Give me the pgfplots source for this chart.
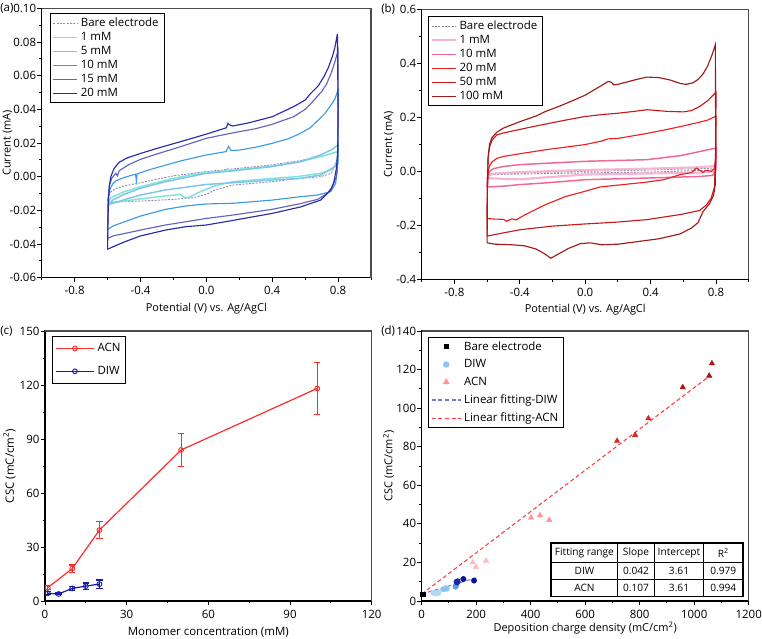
\documentclass[border=0pt]{standalone}
\usepackage{fontspec}
\setmainfont{Open Sans}
\usepackage{pgfplots}
\pgfplotsset{compat=1.18}
\newcommand\tf{\fontsize{8.6}{10.2}\selectfont}
\newcommand\lf{\fontsize{8.2}{10}\selectfont}
\newcommand\tabf{\fontsize{7.6}{9}\selectfont}

% colours of panel (a)
\definecolor{aBare}{HTML}{8C8CB4}
\definecolor{aOne}{HTML}{7FE3D8}
\definecolor{aFive}{HTML}{80C4EC}
\definecolor{aTen}{HTML}{3A9AE8}
\definecolor{aFifteen}{HTML}{6262BE}
\definecolor{aTwenty}{HTML}{2A2AA8}
% colours of panel (b)
\definecolor{bBare}{HTML}{8C8CA0}
\definecolor{bOne}{HTML}{F8B4D4}
\definecolor{bTen}{HTML}{F06890}
\definecolor{bTwenty}{HTML}{F01E1E}
\definecolor{bFifty}{HTML}{C81A1A}
\definecolor{bHundred}{HTML}{A01818}
% colours of panels (c) and (d)
\definecolor{acnRed}{HTML}{FF2A2A}
\definecolor{diwBlue}{HTML}{1A1AA6}
\definecolor{diwA}{HTML}{B0D8F4}
\definecolor{diwB}{HTML}{8CC3EC}
\definecolor{diwC}{HTML}{5C9EDF}
\definecolor{diwD}{HTML}{1A2AA8}
\definecolor{diwE}{HTML}{0A1290}
\definecolor{acnA}{HTML}{FFB8CB}
\definecolor{acnB}{HTML}{FF9494}
\definecolor{acnC}{HTML}{D42A2A}
\definecolor{acnD}{HTML}{B01515}
\definecolor{fitDIW}{HTML}{7878DC}
\definecolor{fitACN}{HTML}{FF4040}

\pgfplotsset{
  panel/.style={
    scale only axis, anchor=south west, clip mode=individual,
    axis line style={line width=0.8pt},
    tick align=outside, xtick pos=bottom, ytick pos=left,
    major tick length=3.2pt, minor tick length=1.8pt,
    every tick/.append style={black, line width=0.7pt},
    tick label style={font=\tf},
    yticklabel style={inner xsep=0.8pt},
    label style={font=\lf},
    legend style={font=\tf, draw=black, line width=0.7pt, cells={anchor=west},
      inner xsep=2pt, inner ysep=1pt, row sep=-1.2pt},
    legend cell align=left,
  },
  cv/.style={line width=0.85pt, mark=none},
  cvlegend/.style={legend image code/.code={\draw[##1] (0pt,0pt) -- (18pt,0pt);}},
}

\begin{document}
\begin{tikzpicture}
\useasboundingbox (0,0) rectangle (571.5pt,-478.5pt);

% ---------------- (a)
\begin{axis}[panel, cvlegend,
  at={(31.275pt,-208.275pt)}, width=246.975pt, height=202.05pt,
  xmin=-1, xmax=1, ymin=-0.06, ymax=0.10,
  xtick={-0.8,-0.4,0,0.4,0.8}, xticklabels={-0.8,-0.4,0.0,0.4,0.8},
  minor xtick={-1,-0.6,-0.2,0.2,0.6,1},
  ytick={-0.06,-0.04,-0.02,0,0.02,0.04,0.06,0.08,0.10},
  yticklabels={-0.06,-0.04,-0.02,0.00,0.02,0.04,0.06,0.08,0.10},
  minor ytick={-0.05,-0.03,-0.01,0.01,0.03,0.05,0.07,0.09},
  xlabel={Potential (V) vs. Ag/AgCl}, ylabel={Current (mA)},
  x label style={at={(axis description cs:0.5,-0.116)}, anchor=center},
  y label style={at={(axis description cs:-0.104,0.5)}, anchor=center},
  legend style={at={(axis description cs:0.024,0.981)}, anchor=north west},
]
\addplot[cv, aBare, line width=0.7pt, dash pattern=on 1.5pt off 1pt] coordinates {
 (-0.6,-0.013) (-0.58,-0.009) (-0.55,-0.007) (-0.5,-0.0055) (-0.4,-0.0036) (-0.3,-0.0015)
 (-0.2,0.0005) (-0.1,0.0018) (0,0.003) (0.2,0.005) (0.4,0.007) (0.55,0.0092) (0.694,0.0119) (0.8,0.0149)
 (0.79,0.009) (0.76,0.002) (0.694,0.0) (0.571,-0.001) (0.4,-0.003) (0.16,-0.005) (0.05,-0.008)
 (0.0,-0.0105) (-0.08,-0.0125) (-0.2,-0.0135) (-0.4,-0.0145) (-0.6,-0.015) (-0.6,-0.013)};
\addlegendentry{Bare electrode}
\addplot[cv, aOne, line width=1.1pt] coordinates {
 (-0.6,-0.016) (-0.58,-0.0125) (-0.5,-0.009) (-0.4,-0.006) (-0.3,-0.0035) (-0.2,-0.001) (-0.1,0.001)
 (0,0.0024) (0.12,0.0035) (0.13,0.0048) (0.14,0.0036) (0.25,0.0048) (0.4,0.0063) (0.55,0.0085)
 (0.694,0.0119) (0.8,0.0149)
 (0.8,0.008) (0.76,0.004) (0.694,0.002) (0.55,0.0) (0.4,-0.001) (0.16,-0.003) (0.05,-0.0055)
 (0.0,-0.0075) (-0.05,-0.0095) (-0.1,-0.012) (-0.13,-0.0125) (-0.16,-0.0105) (-0.2,-0.011)
 (-0.3,-0.012) (-0.45,-0.0138) (-0.6,-0.016)};
\addlegendentry{1 mM}
\addplot[cv, aFive, line width=1.1pt] coordinates {
 (-0.6,-0.018) (-0.57,-0.0139) (-0.5,-0.0105) (-0.4,-0.0069) (-0.248,-0.003) (-0.1,0.0) (0,0.002)
 (0.16,0.0034) (0.4,0.006) (0.571,0.0089) (0.694,0.0129) (0.76,0.016) (0.8,0.0188)
 (0.8,0.011) (0.78,0.006) (0.694,0.001) (0.571,-0.001) (0.4,-0.002) (0.16,-0.0036) (0,-0.0046)
 (-0.248,-0.0079) (-0.4,-0.0109) (-0.494,-0.0135) (-0.6,-0.0168) (-0.6,-0.018)};
\addlegendentry{5 mM}
\addplot[cv, aTen] coordinates {
 (-0.6,-0.031) (-0.598,-0.02) (-0.594,-0.012) (-0.585,-0.0075) (-0.57,-0.0045) (-0.55,-0.0025)
 (-0.5,-0.0005) (-0.43,0.0015) (-0.425,-0.0025) (-0.42,0.0017) (-0.35,0.0040) (-0.25,0.0068)
 (-0.15,0.0095) (0,0.0129) (0.12,0.0149) (0.135,0.018) (0.15,0.0155) (0.2,0.0158) (0.3,0.0175)
 (0.4,0.0198) (0.5,0.0226) (0.57,0.0257) (0.63,0.0290) (0.67,0.0327) (0.72,0.0375) (0.75,0.0416)
 (0.78,0.046) (0.8,0.0515)
 (0.8,0.02) (0.797,0.005) (0.785,-0.004) (0.755,-0.0089) (0.675,-0.0109) (0.571,-0.0119)
 (0.4,-0.0139) (0.16,-0.0158) (0,-0.0162) (-0.125,-0.0174) (-0.248,-0.0194) (-0.4,-0.0234)
 (-0.494,-0.0267) (-0.56,-0.029) (-0.6,-0.0313)};
\addlegendentry{10 mM}
\addplot[cv, aFifteen] coordinates {
 (-0.6,-0.037) (-0.598,-0.025) (-0.595,-0.012) (-0.588,-0.005) (-0.575,-0.001) (-0.55,0.002)
 (-0.54,0.0005) (-0.53,0.0035) (-0.47,0.0072) (-0.4,0.0103) (-0.3,0.0135) (-0.2,0.0165)
 (-0.1,0.0196) (0,0.0228) (0.16,0.026) (0.3,0.0285) (0.4,0.0311) (0.53,0.0356) (0.6,0.040)
 (0.64,0.044) (0.7,0.0505) (0.73,0.055) (0.76,0.062) (0.78,0.068) (0.8,0.075)
 (0.8,0.03) (0.797,0.008) (0.79,0.0) (0.765,-0.006) (0.735,-0.0099) (0.675,-0.0135) (0.571,-0.016)
 (0.4,-0.0194) (0.16,-0.0228) (0,-0.0248) (-0.248,-0.0287) (-0.4,-0.0317) (-0.494,-0.0337)
 (-0.56,-0.035) (-0.6,-0.0366)};
\addlegendentry{15 mM}
\addplot[cv, aTwenty] coordinates {
 (-0.6,-0.043) (-0.598,-0.03) (-0.595,-0.015) (-0.59,-0.006) (-0.58,0.0) (-0.56,0.005)
 (-0.53,0.0085) (-0.48,0.0112) (-0.4,0.0138) (-0.3,0.0168) (-0.207,0.0194) (-0.1,0.0224)
 (0,0.0253) (0.121,0.029) (0.131,0.0317) (0.14,0.0308) (0.16,0.0301) (0.25,0.0318) (0.4,0.0356)
 (0.53,0.0416) (0.6,0.0455) (0.634,0.0495) (0.68,0.054) (0.714,0.0594) (0.74,0.0645)
 (0.765,0.0713) (0.78,0.0765) (0.796,0.0848)
 (0.8,0.04) (0.798,0.015) (0.79,0.005) (0.775,-0.003) (0.755,-0.008) (0.694,-0.0139) (0.571,-0.018)
 (0.4,-0.0218) (0.16,-0.026) (0,-0.0287) (-0.125,-0.0297) (-0.248,-0.0317) (-0.4,-0.0352)
 (-0.494,-0.0386) (-0.575,-0.042) (-0.6,-0.0432)};
\addlegendentry{20 mM}
\draw[black!70, line width=0.8pt] (rel axis cs:0,1) -- (rel axis cs:1,1) -- (rel axis cs:1,0);
\end{axis}

% ---------------- (b)
\begin{axis}[panel, cvlegend,
  at={(316.275pt,-209.475pt)}, width=245.25pt, height=202.5pt,
  xmin=-1, xmax=1, ymin=-0.4, ymax=0.6,
  xtick={-0.8,-0.4,0,0.4,0.8}, xticklabels={-0.8,-0.4,0.0,0.4,0.8},
  minor xtick={-1,-0.6,-0.2,0.2,0.6,1},
  ytick={-0.4,-0.2,0,0.2,0.4,0.6}, yticklabels={-0.4,-0.2,0.0,0.2,0.4,0.6},
  minor ytick={-0.3,-0.1,0.1,0.3,0.5},
  xlabel={Potential (V) vs. Ag/AgCl}, ylabel={Current (mA)},
  x label style={at={(axis description cs:0.5,-0.114)}, anchor=center},
  y label style={at={(axis description cs:-0.101,0.5)}, anchor=center},
  legend style={at={(axis description cs:0.018,0.974)}, anchor=north west},
]
\addplot[cv, bBare, line width=0.7pt, dash pattern=on 1.5pt off 1pt] coordinates {
 (-0.6,-0.01) (-0.4,-0.005) (0,0.0) (0.4,0.005) (0.8,0.012)
 (0.79,0.005) (0.4,-0.003) (0,-0.006) (-0.4,-0.01) (-0.6,-0.012) (-0.6,-0.01)};
\addlegendentry{Bare electrode}
\addplot[cv, bOne, line width=1.6pt] coordinates {
 (-0.6,-0.03) (-0.59,-0.015) (-0.55,-0.008) (-0.4,-0.003) (0.0,0.005) (0.4,0.01) (0.7,0.015)
 (0.8,0.02) (0.8,0.09) (0.8,0.01) (0.79,0.0) (0.7,-0.005) (0.4,-0.008) (0.0,-0.012) (-0.3,-0.025)
 (-0.4,-0.03) (-0.5,-0.028) (-0.6,-0.025) (-0.6,-0.03)};
\addlegendentry{1 mM}
\addplot[cv, bTen, line width=1.1pt] coordinates {
 (-0.6,-0.058) (-0.595,-0.02) (-0.585,0.0) (-0.56,0.01) (-0.5,0.018) (-0.394,0.025) (0.0,0.037)
 (0.377,0.043) (0.583,0.058) (0.707,0.074) (0.8,0.086)
 (0.798,0.0) (0.78,-0.015) (0.707,-0.019) (0.377,-0.025) (0.0,-0.031) (-0.241,-0.043)
 (-0.394,-0.049) (-0.5,-0.055) (-0.6,-0.058)};
\addlegendentry{10 mM}
\addplot[cv, bTwenty] coordinates {
 (-0.6,-0.175) (-0.598,-0.05) (-0.594,0.0) (-0.585,0.02) (-0.57,0.035) (-0.54,0.048) (-0.5,0.055)
 (-0.4,0.065) (-0.24,0.08) (0.0,0.099) (0.1,0.112) (0.14,0.12) (0.2,0.122) (0.377,0.14)
 (0.5,0.155) (0.6,0.168) (0.7,0.182) (0.75,0.19) (0.8,0.204)
 (0.798,0.05) (0.79,0.01) (0.77,0.0) (0.74,0.004) (0.72,-0.004) (0.68,0.012) (0.65,-0.005)
 (0.583,-0.012) (0.48,-0.031) (0.377,-0.04) (0.171,-0.053) (0.09,-0.058) (0.0,-0.074)
 (-0.118,-0.093) (-0.241,-0.123) (-0.365,-0.16) (-0.4,-0.172) (-0.42,-0.18) (-0.45,-0.176)
 (-0.48,-0.185) (-0.5,-0.178) (-0.55,-0.177) (-0.6,-0.175)};
\addlegendentry{20 mM}
\addplot[cv, bFifty] coordinates {
 (-0.6,-0.24) (-0.598,-0.05) (-0.594,0.05) (-0.585,0.09) (-0.57,0.115) (-0.54,0.135) (-0.5,0.142)
 (-0.4,0.155) (-0.3,0.168) (-0.2,0.18) (-0.1,0.192) (0.0,0.203) (0.1,0.21) (0.2,0.215) (0.3,0.222)
 (0.38,0.228) (0.5,0.222) (0.6,0.22) (0.65,0.225) (0.7,0.24) (0.75,0.262) (0.8,0.293)
 (0.798,0.05) (0.79,-0.06) (0.77,-0.1) (0.74,-0.125) (0.7,-0.145) (0.583,-0.16) (0.377,-0.179)
 (0.2,-0.188) (0.0,-0.195) (-0.2,-0.203) (-0.394,-0.216) (-0.5,-0.228) (-0.6,-0.24)};
\addlegendentry{50 mM}
\addplot[cv, bHundred] coordinates {
 (-0.6,-0.265) (-0.598,-0.05) (-0.594,0.05) (-0.585,0.1) (-0.57,0.125) (-0.54,0.145) (-0.50,0.16)
 (-0.45,0.172) (-0.394,0.185) (-0.3,0.205) (-0.241,0.222) (-0.15,0.243) (-0.076,0.262) (0.0,0.282)
 (0.05,0.30) (0.10,0.318) (0.14,0.333) (0.16,0.330) (0.175,0.320) (0.2,0.322) (0.3,0.338)
 (0.377,0.349) (0.45,0.347) (0.52,0.338) (0.583,0.325) (0.62,0.322) (0.66,0.328) (0.69,0.34)
 (0.72,0.36) (0.748,0.389) (0.775,0.43) (0.796,0.469)
 (0.798,0.1) (0.795,-0.05) (0.785,-0.09) (0.76,-0.12) (0.72,-0.15) (0.69,-0.19) (0.65,-0.21)
 (0.58,-0.232) (0.45,-0.25) (0.3,-0.262) (0.2,-0.27) (0.1,-0.272) (0.03,-0.265) (-0.03,-0.268)
 (-0.1,-0.285) (-0.16,-0.305) (-0.21,-0.322) (-0.25,-0.305) (-0.3,-0.288) (-0.37,-0.276)
 (-0.45,-0.272) (-0.55,-0.27) (-0.6,-0.265)};
\addlegendentry{100 mM}
\draw[black!70, line width=0.8pt] (rel axis cs:0,1) -- (rel axis cs:1,1) -- (rel axis cs:1,0);
\end{axis}

% ---------------- (c)
\begin{axis}[panel,
  at={(33.75pt,-450.75pt)}, width=245pt, height=202.5pt,
  xmin=0, xmax=120, ymin=0, ymax=150,
  xtick={0,30,60,90,120}, xticklabels={0,30,60,90,120}, minor xtick={15,45,75,105},
  ytick={0,30,60,90,120,150}, yticklabels={0,30,60,90,120,150}, minor ytick={15,45,75,105,135},
  label style={font=\tf},
  xlabel={Monomer concentration (mM)}, ylabel={CSC (mC/cm\textsuperscript{2})},
  x label style={at={(axis description cs:0.5,-0.114)}, anchor=center},
  y label style={at={(axis description cs:-0.109,0.5)}, anchor=center},
  legend style={at={(axis description cs:0.021,0.981)}, anchor=north west, row sep=5.5pt,
    inner ysep=3pt},
  legend image code/.code={\draw[mark repeat=2,mark phase=2,#1] plot coordinates {(0pt,0pt) (14.5pt,0pt) (29pt,0pt)};},
]
\addplot[acnRed, line width=0.9pt, mark=o, mark size=1.8pt, mark options={fill=white, line width=0.7pt},
  error bars/.cd, y dir=both, y explicit,
  error bar style={line width=0.9pt}, error mark options={rotate=90, mark size=2.4pt, line width=0.9pt}]
  coordinates {(1,7.4) +- (0,1.2) (10,18.0) +- (0,2.0) (20,39.4) +- (0,4.7) (50,83.9) +- (0,9.3) (100,118.1) +- (0,14.3)};
\addlegendentry{ACN}
\addplot[diwBlue, line width=0.9pt, mark=o, mark size=1.8pt, mark options={fill=white, line width=0.7pt},
  error bars/.cd, y dir=both, y explicit,
  error bar style={line width=0.9pt}, error mark options={rotate=90, mark size=2.4pt, line width=0.9pt}]
  coordinates {(1,4.3) +- (0,0.8) (5,3.9) +- (0,0.5) (10,7.0) +- (0,1.0) (15,8.3) +- (0,1.7) (20,9.4) +- (0,2.3)};
\addlegendentry{DIW}
\draw[black!70, line width=0.8pt] (rel axis cs:0,1) -- (rel axis cs:1,1) -- (rel axis cs:1,0);
\end{axis}

% ---------------- (d)
\begin{axis}[panel,
  at={(316.275pt,-450.75pt)}, width=245.25pt, height=202.5pt,
  xmin=0, xmax=1200, ymin=0, ymax=140,
  xtick={0,200,400,600,800,1000,1200}, xticklabels={0,200,400,600,800,1000,1200},
  minor xtick={100,300,500,700,900,1100},
  ytick={0,20,40,60,80,100,120,140}, yticklabels={0,20,40,60,80,100,120,140},
  minor ytick={10,30,50,70,90,110,130},
  xlabel={Deposition charge density (mC/cm\textsuperscript{2})}, ylabel={CSC (mC/cm\textsuperscript{2})},
  x label style={at={(axis description cs:0.5,-0.101)}, anchor=center},
  y label style={at={(axis description cs:-0.101,0.5)}, anchor=center},
  legend style={at={(axis description cs:0.019,0.978)}, anchor=north west, row sep=1.5pt},
  legend image code/.code={\draw[mark repeat=2,mark phase=2,#1] plot coordinates {(0pt,0pt) (11pt,0pt) (22pt,0pt)};},
]
\addplot[fitDIW, line width=0.8pt, dash pattern=on 3pt off 2pt, forget plot] coordinates {(0,3.61) (200,12.01)};
\addplot[fitACN, line width=0.8pt, dash pattern=on 3pt off 2pt, forget plot] coordinates {(0,3.61) (1060,117.03)};
\addplot[only marks, mark=square*, mark size=1.6pt, black, forget plot] coordinates {(3.7,3.5)};
\addplot[only marks, mark=*, mark size=2pt, diwA, forget plot] coordinates {(43,4.3) (52,3.9) (61,4.3)};
\addplot[only marks, mark=*, mark size=2pt, diwB, forget plot] coordinates {(79,6.1) (88,6.6) (92,6.4)};
\addplot[only marks, mark=*, mark size=2pt, diwC, forget plot] coordinates {(124,7.4) (126,7.9)};
\addplot[only marks, mark=*, mark size=2pt, diwD, forget plot] coordinates {(128,10.0) (132,10.2) (130,9.6)};
\addplot[only marks, mark=*, mark size=2pt, diwE, forget plot] coordinates {(153,11.4) (192,10.6)};
\addplot[only marks, mark=triangle*, mark size=2.3pt, acnA, forget plot] coordinates {(187,20.0) (199,17.6) (236,20.9)};
\addplot[only marks, mark=triangle*, mark size=2.3pt, acnB, forget plot] coordinates {(401,43.2) (434,44.4) (468,42.0)};
\addplot[only marks, mark=triangle*, mark size=2.3pt, acnC, forget plot] coordinates {(717,83.0) (783,86.1) (832,94.7)};
\addplot[only marks, mark=triangle*, mark size=2.3pt, acnD, forget plot] coordinates {(958,110.8) (1055,116.8) (1065,123.2)};
\addlegendimage{only marks, mark=square*, mark size=1.6pt, black}
\addlegendentry{Bare electrode}
\addlegendimage{only marks, mark=*, mark size=2pt, diwB}
\addlegendentry{DIW}
\addlegendimage{only marks, mark=triangle*, mark size=2.3pt, acnB}
\addlegendentry{ACN}
\addlegendimage{fitDIW, line width=0.8pt, dash pattern=on 3pt off 2pt}
\addlegendentry{Linear fitting-DIW}
\addlegendimage{fitACN, line width=0.8pt, dash pattern=on 3pt off 2pt}
\addlegendentry{Linear fitting-ACN}
\draw[black!70, line width=0.8pt] (rel axis cs:0,1) -- (rel axis cs:1,1) -- (rel axis cs:1,0);
\end{axis}

% fitting table of panel (d)
\fill[white] (413.25pt,-407.25pt) rectangle (557.25pt,-447.5pt);
\draw[line width=0.9pt] (413.25pt,-407.25pt) rectangle (557.25pt,-447.5pt);
\draw[line width=0.9pt] (413.25pt,-421.7pt) -- (557.25pt,-421.7pt)
  (413.25pt,-434.5pt) -- (557.25pt,-434.5pt)
  (463.3pt,-407.25pt) -- (463.3pt,-447.5pt)
  (490.7pt,-407.25pt) -- (490.7pt,-447.5pt)
  (527.8pt,-407.25pt) -- (527.8pt,-447.5pt);
\begin{scope}[every node/.style={font=\tabf, inner sep=0pt}]
\node at (438.3pt,-414.5pt) {Fitting range};
\node at (477.0pt,-414.5pt) {Slope};
\node at (509.25pt,-414.5pt) {Intercept};
\node at (542.5pt,-414.5pt) {R\textsuperscript{2}};
\node at (438.3pt,-428.1pt) {DIW};
\node at (477.0pt,-428.1pt) {0.042};
\node at (509.25pt,-428.1pt) {3.61};
\node at (542.5pt,-428.1pt) {0.979};
\node at (438.3pt,-441.0pt) {ACN};
\node at (477.0pt,-441.0pt) {0.107};
\node at (509.25pt,-441.0pt) {3.61};
\node at (542.5pt,-441.0pt) {0.994};
\end{scope}

% panel letters
\node[font=\tf, anchor=west, inner sep=0pt] at (0pt,-6.4pt) {(a)};
\node[font=\tf, anchor=west, inner sep=0pt] at (285.75pt,-6.6pt) {(b)};
\node[font=\tf, anchor=west, inner sep=0pt] at (0pt,-248.8pt) {(c)};
\node[font=\tf, anchor=west, inner sep=0pt] at (285.75pt,-248.6pt) {(d)};
\end{tikzpicture}
\end{document}
